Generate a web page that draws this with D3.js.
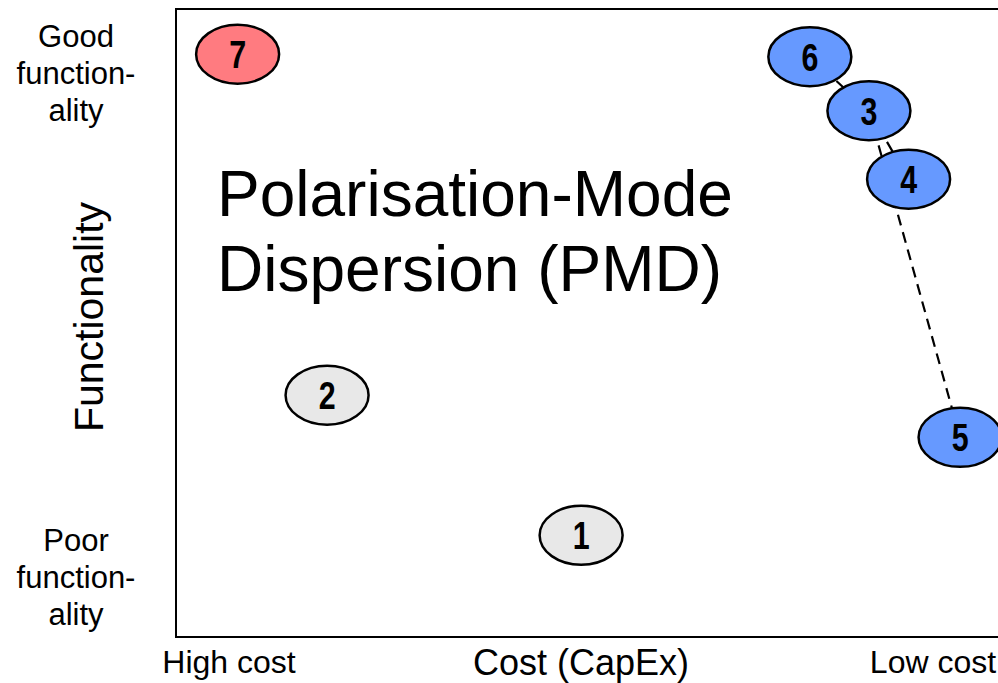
<!DOCTYPE html>
<html><head><meta charset="utf-8">
<script src="https://cdnjs.cloudflare.com/ajax/libs/d3/7.8.5/d3.min.js"></script>
<style>
html,body{margin:0;padding:0;background:#fff;overflow:hidden}
text{font-family:"Liberation Sans",Arial,sans-serif;fill:#000}
.num{font-family:"Liberation Sans",Arial,sans-serif;font-weight:bold}
</style></head>
<body><svg id="c" width="998" height="683"></svg>
<script>
// Data
const ids        = ["1","2","3","4","5","6","7"];
const costValues = [4.80, 1.79, 8.21, 8.68, 9.29, 7.51, 0.73];   // 0 = high cost, 10 = low cost
const funcValues = [1.62, 3.85, 8.38, 7.29, 3.18, 9.24, 9.28];   // 0 = poor, 10 = good
const groups     = ["grey","grey","blue","blue","blue","blue","red"];
const links      = [["6","3"],["3","4"],["3","5"]];
const titleLines = ["Polarisation-Mode","Dispersion (PMD)"];
const yTopLabel  = ["Good","function-","ality"];
const yBotLabel  = ["Poor","function-","ality"];
const xLabels    = {left:"High cost", mid:"Cost (CapEx)", right:"Low cost"};
const yTitle     = "Functionality";

const colors = {grey:"#e8e8e8", blue:"#6699ff", red:"#ff7b80"};
const svg = d3.select("#c");
const L=176, T=9, B=637, R=1020;
const x = d3.scaleLinear().domain([0,10]).range([L,R]);
const y = d3.scaleLinear().domain([0,10]).range([B,T]);

svg.append("rect").attr("x",L).attr("y",T).attr("width",R-L).attr("height",B-T)
  .attr("fill","none").attr("stroke","#000").attr("stroke-width",2);

const pts = ids.map((id,i)=>({id, cx:x(costValues[i]), cy:y(funcValues[i]), g:groups[i]}));
const byId = Object.fromEntries(pts.map(p=>[p.id,p]));

svg.append("g").selectAll("line").data(links).join("line")
  .attr("x1",d=>byId[d[0]].cx).attr("y1",d=>byId[d[0]].cy)
  .attr("x2",d=>byId[d[1]].cx).attr("y2",d=>byId[d[1]].cy)
  .attr("stroke","#000").attr("stroke-width",2.2).attr("stroke-dasharray","11,7");

const node = svg.append("g").selectAll("g").data(pts).join("g")
  .attr("transform",d=>`translate(${d.cx},${d.cy})`);
node.append("ellipse").attr("rx",41.5).attr("ry",29.5)
  .attr("fill",d=>colors[d.g]).attr("stroke","#000").attr("stroke-width",2.5);
node.append("text").attr("class","num").attr("text-anchor","middle")
  .attr("transform","translate(0,14) scale(0.8,1)")
  .style("font-size","38px").text(d=>d.id);

// title
svg.append("g").selectAll("text").data(titleLines).join("text")
  .attr("x",217).attr("y",(d,i)=>216+i*75).style("font-size","64px").text(d=>d);

// y labels
svg.append("g").selectAll("text").data(yTopLabel).join("text")
  .attr("x",76).attr("y",(d,i)=>47+i*37).attr("text-anchor","middle").style("font-size","31px").text(d=>d);
svg.append("g").selectAll("text").data(yBotLabel).join("text")
  .attr("x",76).attr("y",(d,i)=>551+i*37).attr("text-anchor","middle").style("font-size","31px").text(d=>d);
svg.append("text").attr("transform","translate(103,317) rotate(-90)").attr("text-anchor","middle")
  .style("font-size","41px").text(yTitle);

// x labels
svg.append("text").attr("x",229).attr("y",673).attr("text-anchor","middle").style("font-size","32px").text(xLabels.left);
svg.append("text").attr("x",581).attr("y",675).attr("text-anchor","middle").style("font-size","36px").text(xLabels.mid);
svg.append("text").attr("x",933).attr("y",673).attr("text-anchor","middle").style("font-size","32px").text(xLabels.right);
</script></body></html>
